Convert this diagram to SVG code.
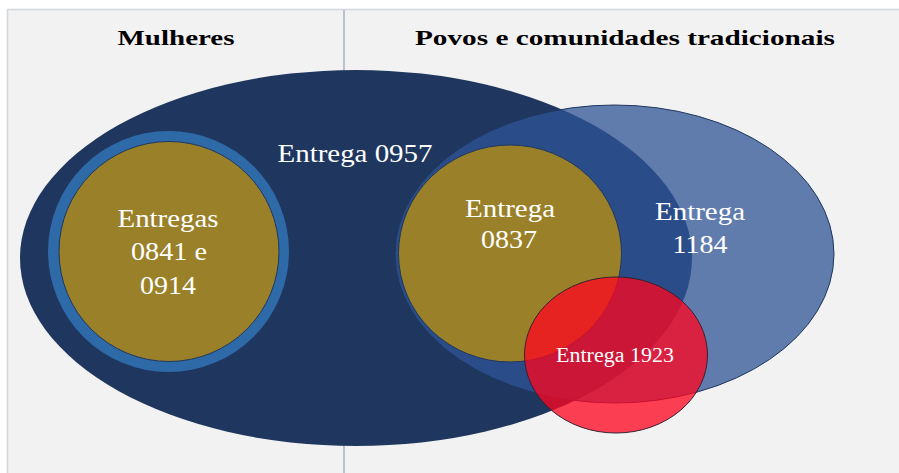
<svg xmlns="http://www.w3.org/2000/svg" width="899" height="473" viewBox="0 0 899 473">
<style>
.hdr{font-family:"Liberation Serif","Times New Roman",serif;font-weight:bold;font-size:22px;fill:#000;text-anchor:middle}
.lbl{font-family:"Liberation Serif","Times New Roman",serif;font-size:25px;fill:#fff;text-anchor:middle}
.sm{font-family:"Liberation Serif","Times New Roman",serif;font-size:20px;fill:#fff;text-anchor:middle}
</style>
<rect x="0" y="0" width="899" height="473" fill="#ffffff"/>
<rect x="7.5" y="9.5" width="900" height="470" fill="#f2f2f2" stroke="#d3d6dc" stroke-width="1.5"/>
<line x1="344" y1="10" x2="344" y2="473" stroke="#b9c1cd" stroke-width="2"/>
<g id="headers">
<text class="hdr" x="176" y="45" textLength="117" lengthAdjust="spacingAndGlyphs">Mulheres</text>
<text class="hdr" x="625" y="45" textLength="420" lengthAdjust="spacingAndGlyphs">Povos e comunidades tradicionais</text>
</g>
<g id="node-0957">
<ellipse cx="356" cy="258" rx="336" ry="188" fill="#1f375f"/>
<text class="lbl" x="355" y="162" textLength="155" lengthAdjust="spacingAndGlyphs">Entrega 0957</text>
</g>
<g id="node-0841-0914">
<circle cx="168.5" cy="251.5" r="120.5" fill="#2e69a8"/>
<circle cx="169" cy="251.5" r="110" fill="#9a8129" stroke="#1f375f" stroke-width="1"/>
<text class="lbl" x="168" y="227" textLength="101" lengthAdjust="spacingAndGlyphs">Entregas</text>
<text class="lbl" x="169" y="260" textLength="76" lengthAdjust="spacingAndGlyphs">0841 e</text>
<text class="lbl" x="168" y="294" textLength="56" lengthAdjust="spacingAndGlyphs">0914</text>
</g>
<g id="node-1184">
<ellipse cx="614.5" cy="254" rx="219.5" ry="149" fill="#2f5495" fill-opacity="0.75" stroke="#1f375f" stroke-width="1"/>
<text class="lbl" x="700" y="220" textLength="90" lengthAdjust="spacingAndGlyphs">Entrega</text>
<text class="lbl" x="700" y="253" textLength="55" lengthAdjust="spacingAndGlyphs">1184</text>
</g>
<g id="node-0837">
<ellipse cx="510" cy="253.5" rx="111.5" ry="108.5" fill="#9a8129" stroke="#1f375f" stroke-width="1"/>
<text class="lbl" x="510" y="217" textLength="90" lengthAdjust="spacingAndGlyphs">Entrega</text>
<text class="lbl" x="509" y="248" textLength="56" lengthAdjust="spacingAndGlyphs">0837</text>
</g>
<g id="node-1923">
<ellipse cx="616" cy="355" rx="91.5" ry="78" fill="#ff0520" fill-opacity="0.76" stroke="#3a2030" stroke-width="1"/>
<text class="sm" x="615" y="362" textLength="118" lengthAdjust="spacingAndGlyphs">Entrega 1923</text>
</g>
<g id="connectors"></g>
</svg>
